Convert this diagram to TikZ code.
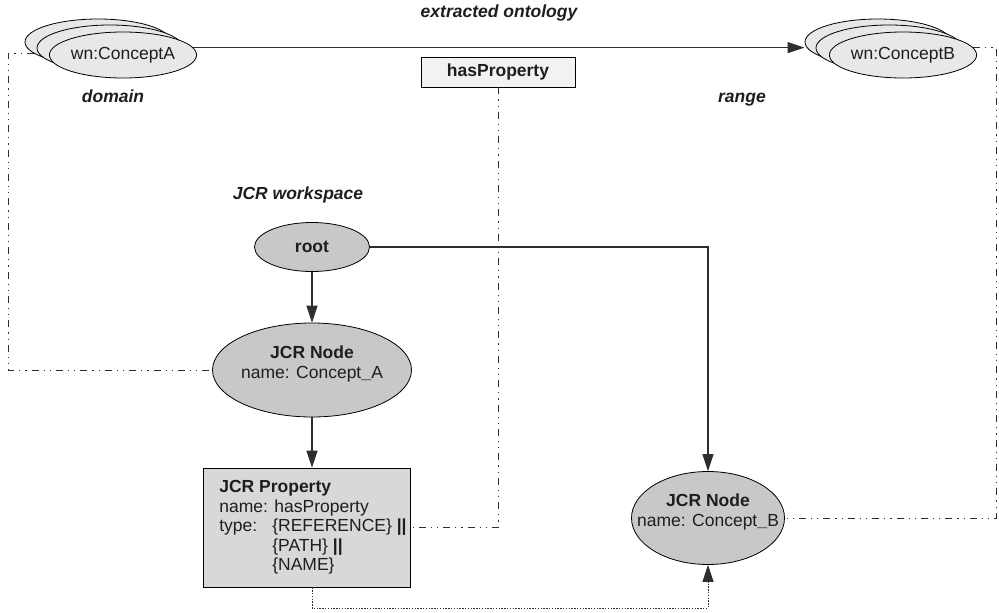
\documentclass[tikz,border=0pt]{standalone}
\usepackage{fontspec}
\setmainfont{Liberation Sans}
\usetikzlibrary{arrows.meta,shapes.geometric}

\definecolor{conceptfill}{HTML}{E8E8E8}
\definecolor{jcrfill}{HTML}{C8C8C8}
\definecolor{propfill}{HTML}{D8D8D8}
\definecolor{boxfill}{HTML}{F2F2F2}
\definecolor{ink}{HTML}{1E1E1E}
\definecolor{wire}{HTML}{2E2E2E}

\newcommand{\heavyus}{\textbf{\_}}

\begin{document}
\begin{tikzpicture}[x=1pt,y=-1pt,
  font=\fontsize{17.5}{19.5}\selectfont,
  text=ink,
  concept/.style={ellipse, draw=black, line width=0.8pt, fill=conceptfill,
                  minimum width=146pt, minimum height=46pt, inner sep=0pt},
  jcr/.style={ellipse, draw=black, line width=0.8pt, fill=jcrfill, inner sep=0pt},
  caption/.style={font=\fontsize{17.5}{19.5}\selectfont\bfseries\itshape,
                  text height=12.5pt, text depth=3.7pt},
  link/.style={draw=wire, line width=1.1pt},
  tip/.style={-{Triangle[length=17pt,width=11pt]}},
  trace/.style={draw=wire, line width=0.9pt,
                dash pattern=on 7pt off 5pt on 1.2pt off 5pt on 1.2pt off 5pt},
  dotline/.style={draw=wire, line width=1pt, dash pattern=on 1.4pt off 1.4pt},
]
\useasboundingbox (0,0) rectangle (999,613);

% extracted ontology: stacked concept sets
\node[concept] (a3) at (98,42) {};
\node[concept] (a2) at (110,48) {};
\node[concept] (a)  at (123,55) {wn:ConceptA};
\node[concept] (b3) at (878,42) {};
\node[concept] (b2) at (889,48) {};
\node[concept] (b)  at (903,55) {wn:ConceptB};

\node[caption] (onto) at (499,13) {extracted ontology};
\node[caption] (dom)  at (113,98) {domain};
\node[caption] (rng)  at (742,98) {range};

\draw[link,tip] (a.6) -- (a.6 -| b3.west);

\node[draw=black, line width=0.8pt, fill=boxfill, minimum width=154pt,
      minimum height=30pt, inner sep=0pt, font=\fontsize{17.5}{19.5}\selectfont\bfseries]
      (hp) at (498,72) {hasProperty};

% JCR workspace
\node[caption] (ws) at (298,195) {JCR workspace};

\node[jcr, minimum width=115pt, minimum height=49pt,
      font=\fontsize{17.5}{19.5}\selectfont\bfseries] (root) at (312,247) {root};

\node[jcr, minimum width=199pt, minimum height=94pt,
      label={[align=center, yshift=6pt]center:{\textbf{JCR Node}\\name: Concept\heavyus A}}]
      (na) at (312,370) {};

\node[jcr, minimum width=153pt, minimum height=93pt,
      label={[align=center, yshift=6pt]center:{\textbf{JCR Node}\\name: Concept\heavyus B}}]
      (nb) at (708,518) {};

\node[draw=black, line width=0.8pt, fill=propfill, minimum width=207pt,
      minimum height=119pt, inner sep=0pt] (prop) at (307,527.5) {};
\node[anchor=west, align=left, inner sep=0pt] (proptext) at ([xshift=16pt]prop.west)
  {\textbf{JCR Property}\\
   name: hasProperty\\
   \makebox[53pt][l]{type:}\{REFERENCE\} \textbf{||}\\
   \hspace*{53pt}\{PATH\} \textbf{||}\\
   \hspace*{53pt}\{NAME\}};

\draw[link,tip] (root.south) -- (na.north);
\draw[link,tip] (na.south) -- (na.south |- prop.north);
\draw[link,tip] (root.east) -| (nb.north);

\coordinate (bend) at (312,608);
\draw[dotline,tip] (prop.south -| na.south) -- (bend) -| (nb.south);

% correspondence traces between ontology and workspace
\coordinate (lx) at (8,0);
\coordinate (rx) at (996,0);
\draw[trace] (a3.190) -- (a3.190 -| lx) -- (na.west -| lx) -- (na.west);
\draw[trace] (b.6) -- (b.6 -| rx) -- (nb.east -| rx) -- (nb.east);
\draw[trace] (hp.south) |- (prop.east);
\end{tikzpicture}
\end{document}
